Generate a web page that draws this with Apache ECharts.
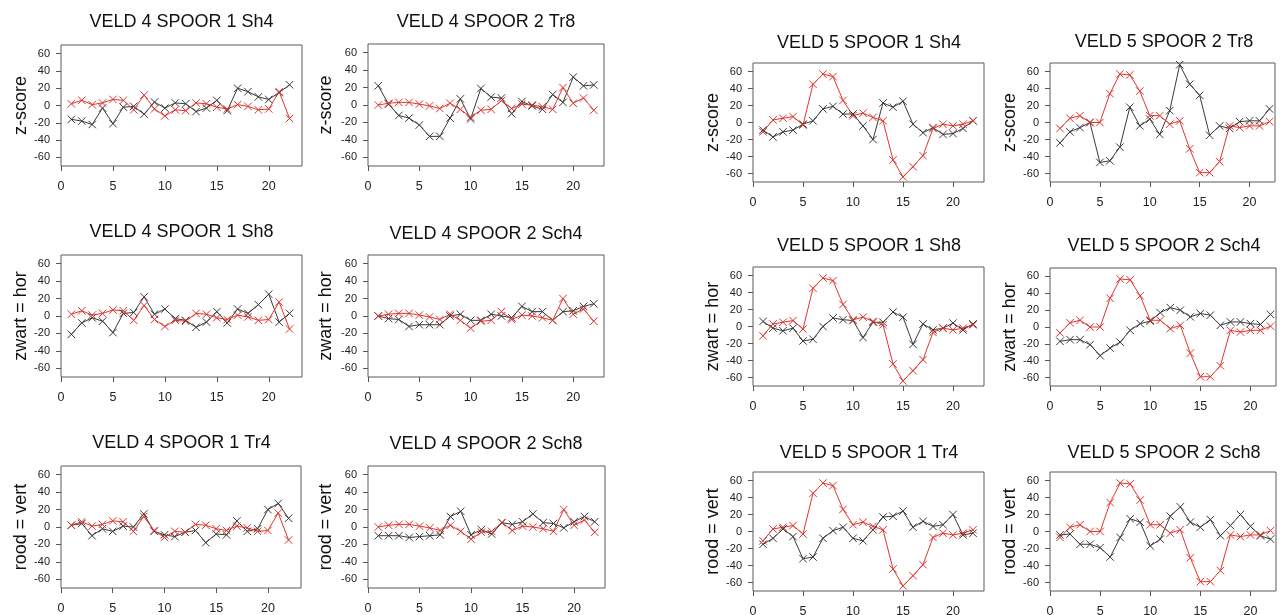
<!DOCTYPE html>
<html>
<head>
<meta charset="utf-8">
<script src="https://cdn.jsdelivr.net/npm/echarts@6/dist/echarts.min.js"></script>
<style>
  html, body { margin: 0; padding: 0; background: #ffffff; }
  #chart { width: 1282px; height: 615px; }
</style>
</head>
<body>
<div id="chart"></div>
<script>
// Measurement positions along each track
const positions = [1, 2, 3, 4, 5, 6, 7, 8, 9, 10, 11, 12, 13, 14, 15, 16, 17, 18, 19, 20, 21, 22];
const xTickValues = [0, 5, 10, 15, 20];
const yTickValues = [-60, -40, -20, 0, 20, 40, 60];

// Red (vertical) profiles, one per field/track column
const redV4S1 = [2, 6, 1, 3, 7, 6, -5, 12, -4, -12, -5, -6, 3, 2, -2, -4, 1, -1, -5, -4, 16, -15];
const redV4S2 = [0, 2, 3, 3, 1, -1, -4, 2, -5, -14, -6, -5, 5, -4, 1, 0, -2, -5, 20, 2, 8, -6];
const redV5S1 = [-11, 3, 5, 7, -3, 45, 57, 54, 26, 8, 11, 6, 2, -44, -64, -52, -39, -7, -2, -4, -2, 2];
const redV5S2 = [-7, 5, 8, 0, 0, 34, 57, 56, 37, 8, 8, -2, 2, -31, -59, -59, -46, -4, -6, -4, -4, 1];

// Black (horizontal) profiles, one per panel
const blackV4S1Sh4 = [-16, -18, -22, -3, -21, -2, -1, -10, 4, -3, 3, 2, -7, -3, 6, -6, 20, 16, 10, 7, 15, 24];
const blackV4S2Tr8 = [22, 1, -12, -15, -23, -36, -36, -15, 7, -16, 19, 9, 8, -10, 4, -1, -5, 12, 3, 32, 22, 23];
const blackV4S1Sh8 = [-21, -8, -2, -6, -19, 3, 4, 22, 2, 8, -3, -5, -13, -7, 5, -8, 8, 3, 13, 25, -7, 3];
const blackV4S2Sch4 = [0, -3, -4, -12, -10, -10, -10, 0, 2, -5, -5, 2, 0, -2, 11, 5, 5, -5, 5, 6, 11, 14];
const blackV4S1Tr4 = [2, 4, -10, -2, -5, 1, 0, 15, -5, -9, -11, -6, -4, -18, -8, -9, 7, -5, -2, 20, 27, 10];
const blackV4S2Sch8 = [-10, -10, -10, -12, -11, -10, -9, 12, 18, -9, -3, -8, 5, 3, 6, 15, 5, 4, -1, 6, 12, 6];
const blackV5S1Sh4 = [-9, -17, -11, -9, -2, 2, 16, 19, 10, 10, -4, -20, 23, 18, 25, -2, -12, -6, -14, -13, -7, 2];
const blackV5S2Tr8 = [-24, -11, -6, 0, -47, -45, -29, 18, -4, 4, -14, 14, 68, 45, 32, -15, -4, -7, 1, 2, 2, 16];
const blackV5S1Sh8 = [6, -2, -5, -2, -17, -15, 0, 10, 8, 7, -13, 5, 5, 17, 11, -21, 3, -4, -2, 4, -4, 3];
const blackV5S2Sch4 = [-17, -15, -15, -21, -34, -25, -18, -4, 4, 7, 17, 23, 20, 12, 16, 14, 2, 6, 6, 4, 3, 15];
const blackV5S1Tr4 = [-15, -8, 3, -6, -32, -30, -8, 1, 5, -8, -11, 2, 17, 18, 24, 5, 12, 6, 8, 20, -4, -2];
const blackV5S2Sch8 = [-4, -3, -15, -15, -19, -30, -7, 15, 11, -17, -9, 18, 29, 11, 5, 14, -5, 7, 20, 6, -5, -9];

// Panel contents
const panelTitles = [
  'VELD 4 SPOOR 1 Sh4', 'VELD 4 SPOOR 2 Tr8',
  'VELD 4 SPOOR 1 Sh8', 'VELD 4 SPOOR 2 Sch4',
  'VELD 4 SPOOR 1 Tr4', 'VELD 4 SPOOR 2 Sch8',
  'VELD 5 SPOOR 1 Sh4', 'VELD 5 SPOOR 2 Tr8',
  'VELD 5 SPOOR 1 Sh8', 'VELD 5 SPOOR 2 Sch4',
  'VELD 5 SPOOR 1 Tr4', 'VELD 5 SPOOR 2 Sch8'
];
const panelYNames = [
  'z-score', 'z-score', 'zwart = hor', 'zwart = hor', 'rood = vert', 'rood = vert',
  'z-score', 'z-score', 'zwart = hor', 'zwart = hor', 'rood = vert', 'rood = vert'
];
const panelBlack = [
  blackV4S1Sh4, blackV4S2Tr8, blackV4S1Sh8, blackV4S2Sch4, blackV4S1Tr4, blackV4S2Sch8,
  blackV5S1Sh4, blackV5S2Tr8, blackV5S1Sh8, blackV5S2Sch4, blackV5S1Tr4, blackV5S2Sch8
];
const panelRed = [
  redV4S1, redV4S2, redV4S1, redV4S2, redV4S1, redV4S2,
  redV5S1, redV5S2, redV5S1, redV5S2, redV5S1, redV5S2
];

// Layout of each plot box: [left, top, width, height], x-axis upper bound,
// title centre and axis-name gap
const layout = [
  { box: [61, 45, 241, 121],   xMax: 23.2,  tx: 181.5, ty: 21.7,  gap: 31 },
  { box: [368, 44, 236, 122],  xMax: 23.0,  tx: 486,   ty: 21.7,  gap: 33 },
  { box: [61, 255, 241, 122],  xMax: 23.2,  tx: 181.5, ty: 232,   gap: 31 },
  { box: [368, 255, 236, 122], xMax: 23.0,  tx: 486,   ty: 234,   gap: 33 },
  { box: [61, 466, 240, 122],  xMax: 23.2,  tx: 181.5, ty: 443.5, gap: 31 },
  { box: [368, 466, 237, 122], xMax: 23.0,  tx: 486,   ty: 444,   gap: 33 },
  { box: [753, 63, 231, 119],  xMax: 23.1,  tx: 869,   ty: 43,    gap: 26 },
  { box: [1050, 63, 225, 119], xMax: 22.55, tx: 1164,  ty: 42.5,  gap: 27 },
  { box: [753, 267, 231, 119], xMax: 23.1,  tx: 869,   ty: 246,   gap: 26 },
  { box: [1050, 268, 226, 118],xMax: 22.55, tx: 1164,  ty: 246,   gap: 27 },
  { box: [753, 472, 231, 119], xMax: 23.1,  tx: 869,   ty: 453.5, gap: 26 },
  { box: [1050, 472, 226, 119],xMax: 22.55, tx: 1164,  ty: 453.5, gap: 27 }
];

const FONT = '"Liberation Sans", Arial, Helvetica, sans-serif';
const BLACK = '#3a3a3a';
const RED = '#e2352f';
const CROSS = 'path://M0,0L10,10M10,0L0,10';

const titles = [], grids = [], xAxes = [], yAxes = [], series = [];

panelTitles.forEach((t, i) => {
  const L = layout[i];
  titles.push({
    text: t,
    left: L.tx,
    top: L.ty - 9,
    textAlign: 'center',
    padding: 0,
    textStyle: { fontFamily: FONT, fontSize: 18, fontWeight: 'normal', color: '#111', lineHeight: 18 }
  });
  grids.push({
    left: L.box[0], top: L.box[1], width: L.box[2], height: L.box[3],
    show: true, borderColor: '#5a5a5a', borderWidth: 1, backgroundColor: 'transparent',
    containLabel: false, outerBoundsMode: 'none'
  });
  xAxes.push({
    type: 'value', gridIndex: i, min: 0, max: L.xMax, position: 'bottom',
    axisLine: { show: false, onZero: false },
    splitLine: { show: false },
    axisTick: { show: true, length: 5, lineStyle: { color: '#555', width: 1 }, customValues: xTickValues },
    axisLabel: { fontFamily: FONT, fontSize: 12.5, color: '#222', margin: 14, customValues: xTickValues }
  });
  yAxes.push({
    type: 'value', gridIndex: i, min: -70, max: 70, position: 'left',
    name: panelYNames[i], nameLocation: 'middle', nameRotate: 90, nameGap: L.gap,
    nameTextStyle: { fontFamily: FONT, fontSize: 18, color: '#111' },
    axisLine: { show: false, onZero: false },
    splitLine: { show: false },
    axisTick: { show: true, length: 5, lineStyle: { color: '#555', width: 1 }, customValues: yTickValues },
    axisLabel: { fontFamily: FONT, fontSize: 11, color: '#222', margin: 11, customValues: yTickValues }
  });
  const mk = (vals, color) => ({
    type: 'line', xAxisIndex: i, yAxisIndex: i,
    data: positions.map((p, k) => [p, vals[k]]),
    symbol: CROSS, symbolSize: 7.5, showSymbol: true,
    lineStyle: { color: color, width: 1 },
    itemStyle: { color: color, borderColor: color, borderWidth: 1 },
    emphasis: { disabled: true },
    animation: false
  });
  series.push(mk(panelBlack[i], BLACK));
  series.push(mk(panelRed[i], RED));
});

const chart = echarts.init(document.getElementById('chart'), null, { renderer: 'canvas' });
chart.setOption({
  backgroundColor: '#ffffff',
  animation: false,
  title: titles,
  grid: grids,
  xAxis: xAxes,
  yAxis: yAxes,
  series: series
});
</script>
</body>
</html>
